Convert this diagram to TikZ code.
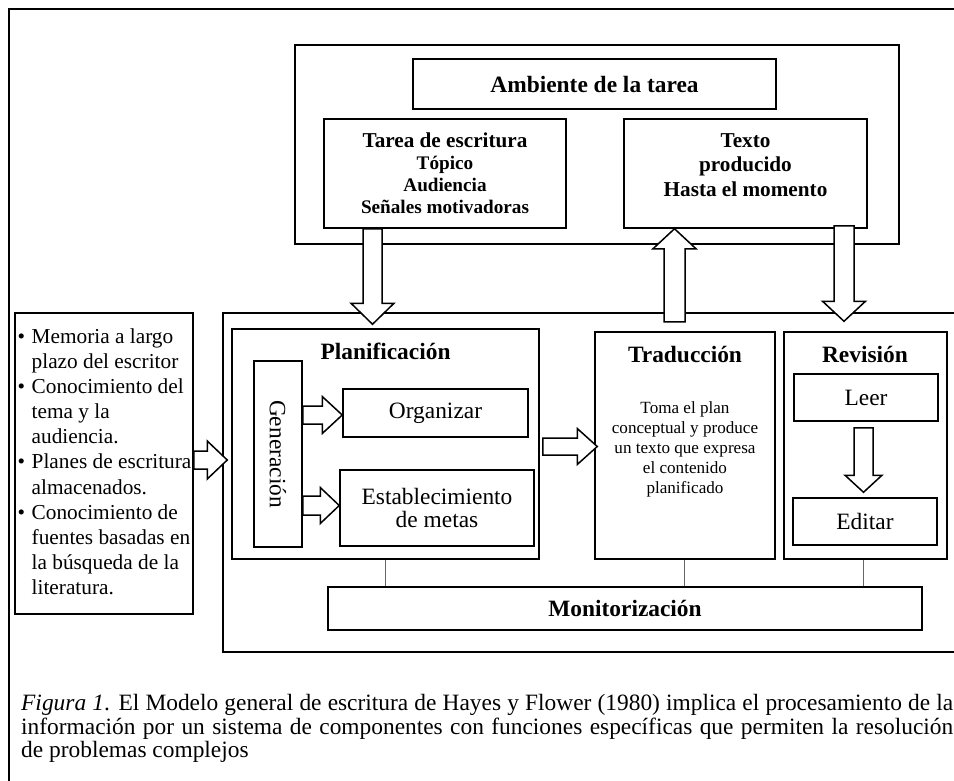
\documentclass[tikz,border=0pt]{standalone}
\usepackage{fontspec}
\setmainfont{Liberation Serif}
\usetikzlibrary{calc}

% broad hollow arrow: #1 tail, #2 tip, #3 half shaft width, #4 half head width, #5 head length
\newcommand\fatarrow[5]{%
  \coordinate (fa-h) at ($(#2)!#5!(#1)$);
  \draw[blockarrow]
    ($(#1)!#3!90:(#2)$) --
    ($(fa-h)!#3!90:(#2)$) --
    ($(fa-h)!#4!90:(#2)$) --
    (#2) --
    ($(fa-h)!#4!-90:(#2)$) --
    ($(fa-h)!#3!-90:(#2)$) --
    ($(#1)!#3!-90:(#2)$) -- cycle;}

\begin{document}
\begin{tikzpicture}[x=1pt,y=-1pt,
  plainbox/.style={draw, line width=1.5pt, inner sep=0pt, align=center},
  thickbox/.style={draw, line width=2.4pt, inner sep=0pt},
  blockarrow/.style={draw, line width=1.5pt, fill=white, line join=miter},
  link/.style={draw=black!60, line width=1pt},
  hd/.style={font=\fontsize{23.4}{26}\selectfont\bfseries},
  rg/.style={font=\fontsize{23.4}{23.5}\selectfont},
  txt/.style={inner sep=0pt, align=center}]

\useasboundingbox (0,0) rectangle (954,780);
\clip (0,0) rectangle (954,780);

% outer frame
\draw[thickbox] (9,9) rectangle (1010,800);

% task environment
\node[thickbox, minimum width=604pt, minimum height=199pt] (env) at (597,144.5) {};
\node[plainbox, hd, minimum width=363pt, minimum height=50pt] (amb) at (594.5,84) {Ambiente de la tarea};
\node[plainbox, minimum width=242pt, minimum height=109pt,
      font=\fontsize{19.2}{22}\selectfont\bfseries] (tarea) at (445,173.5)
  {{\fontsize{21.2}{22}\selectfont Tarea de escritura}\\Tópico\\Audiencia\\Señales motivadoras};
\node[plainbox, minimum width=243pt, minimum height=109pt] (texto) at (745.5,173.5) {};
\node[txt, anchor=north, font=\fontsize{21.2}{24.5}\selectfont\bfseries] (textotxt) at (745.5,133)
  {Texto\\producido\\Hasta el momento};

% writing process
\node[thickbox, minimum width=787pt, minimum height=339pt] (proc) at (616.5,482.5) {};

% long-term memory
\node[plainbox, minimum width=178pt, minimum height=301pt] (mem) at (104,463.5) {};
\node[inner sep=0pt, anchor=north west, align=left, font=\fontsize{21.3}{25.1}\selectfont] (memtxt) at (17.5,328.5)
  {\makebox[14pt][l]{\textbullet}Memoria a largo\\
   \hspace*{14pt}plazo del escritor\\
   \makebox[14pt][l]{\textbullet}Conocimiento del\\
   \hspace*{14pt}tema y la\\
   \hspace*{14pt}audiencia.\\
   \makebox[14pt][l]{\textbullet}Planes de escritura\\
   \hspace*{14pt}almacenados.\\
   \makebox[14pt][l]{\textbullet}Conocimiento de\\
   \hspace*{14pt}fuentes basadas en\\
   \hspace*{14pt}la búsqueda de la\\
   \hspace*{14pt}literatura.};

% planning
\node[plainbox, minimum width=307pt, minimum height=230pt] (plan) at (385.5,444) {};
\node[hd, anchor=base, inner sep=0pt] (planh) at (385.5,359) {Planificación};
\node[plainbox, minimum width=48pt, minimum height=186pt] (gen) at (278,454) {};
\node[rg, rotate=-90, inner sep=0pt] (gentxt) at (gen.center) {Generación};
\node[plainbox, rg, minimum width=185pt, minimum height=48pt] (org) at (435.5,413) {Organizar};
\node[plainbox, rg, minimum width=194pt, minimum height=76pt] (est) at (437,508) {Establecimiento\\de metas};

% translating
\node[plainbox, minimum width=180pt, minimum height=227pt] (trad) at (685,445.5) {};
\node[hd, anchor=base, inner sep=0pt] (tradh) at (685,362) {Traducción};
\node[txt, anchor=north, font=\fontsize{17.1}{20}\selectfont] (tradtxt) at (685,401.3)
  {Toma el plan\\conceptual y produce\\un texto que expresa\\el contenido\\planificado};

% reviewing
\node[plainbox, minimum width=163pt, minimum height=227pt] (rev) at (865.5,445.5) {};
\node[hd, anchor=base, inner sep=0pt] (revh) at (865,362) {Revisión};
\node[plainbox, rg, minimum width=144pt, minimum height=47pt] (leer) at (866,397.5) {Leer};
\node[plainbox, rg, minimum width=144pt, minimum height=47pt] (editar) at (865,521.5) {Editar};

% monitoring
\node[plainbox, hd, minimum width=594pt, minimum height=43pt] (mon) at (625,608.5) {Monitorización};

% links to the monitor
\draw[link] (385,0 |- plan.south) -- (385,0 |- mon.north);
\draw[link] (684,0 |- trad.south) -- (684,0 |- mon.north);
\draw[link] (863,0 |- rev.south) -- (863,0 |- mon.north);

% arrow end points
\coordinate (a1t) at (372.5,0 |- tarea.south);
\coordinate (a1h) at ($(372.5,0 |- plan.north)+(0,-4)$);
\coordinate (a2t) at ($(674.5,0 |- proc.north)+(0,10)$);
\coordinate (a2h) at (674.5,0 |- texto.south);
\coordinate (a3t) at ($(844,0 |- texto.south)+(0,-3)$);
\coordinate (a3h) at ($(844,0 |- rev.north)+(0,-10)$);
\coordinate (a4t) at (mem.east |- 0,460);
\coordinate (a4h) at ($(plan.west |- 0,460)+(-4,0)$);
\coordinate (a5t) at (gen.east |- 0,415);
\coordinate (a5h) at (org.west |- 0,415);
\coordinate (a6t) at (gen.east |- 0,505.5);
\coordinate (a6h) at (est.west |- 0,505.5);
\coordinate (a7t) at ($(plan.east |- 0,446.5)+(3,0)$);
\coordinate (a7h) at ($(trad.west |- 0,446.5)+(3,0)$);
\coordinate (a8t) at ($(863.5,0 |- leer.south)+(0,6)$);
\coordinate (a8h) at ($(863.5,0 |- editar.north)+(0,-5)$);

\fatarrow{a1t}{a1h}{9.5pt}{21.5pt}{21pt}
\fatarrow{a2t}{a2h}{10.5pt}{21.5pt}{20pt}
\fatarrow{a3t}{a3h}{10pt}{21.5pt}{20pt}
\fatarrow{a4t}{a4h}{9pt}{19pt}{20pt}
\fatarrow{a5t}{a5h}{9pt}{18.5pt}{20pt}
\fatarrow{a6t}{a6h}{9.5pt}{18pt}{19pt}
\fatarrow{a7t}{a7h}{8.5pt}{18pt}{20pt}
\fatarrow{a8t}{a8h}{9.5pt}{18.5pt}{17pt}

% caption
\node[inner sep=0pt, anchor=north west, align=left, font=\fontsize{23.4}{23.8}\selectfont] (cap) at (21,693.8)
  {\makebox[932pt][s]{\textit{Figura 1}. El Modelo general de escritura de Hayes y Flower (1980) implica el procesamiento de la}\\
   \makebox[932pt][s]{información por un sistema de componentes con funciones específicas que permiten la resolución}\\
   de problemas complejos};
\end{tikzpicture}
\end{document}
